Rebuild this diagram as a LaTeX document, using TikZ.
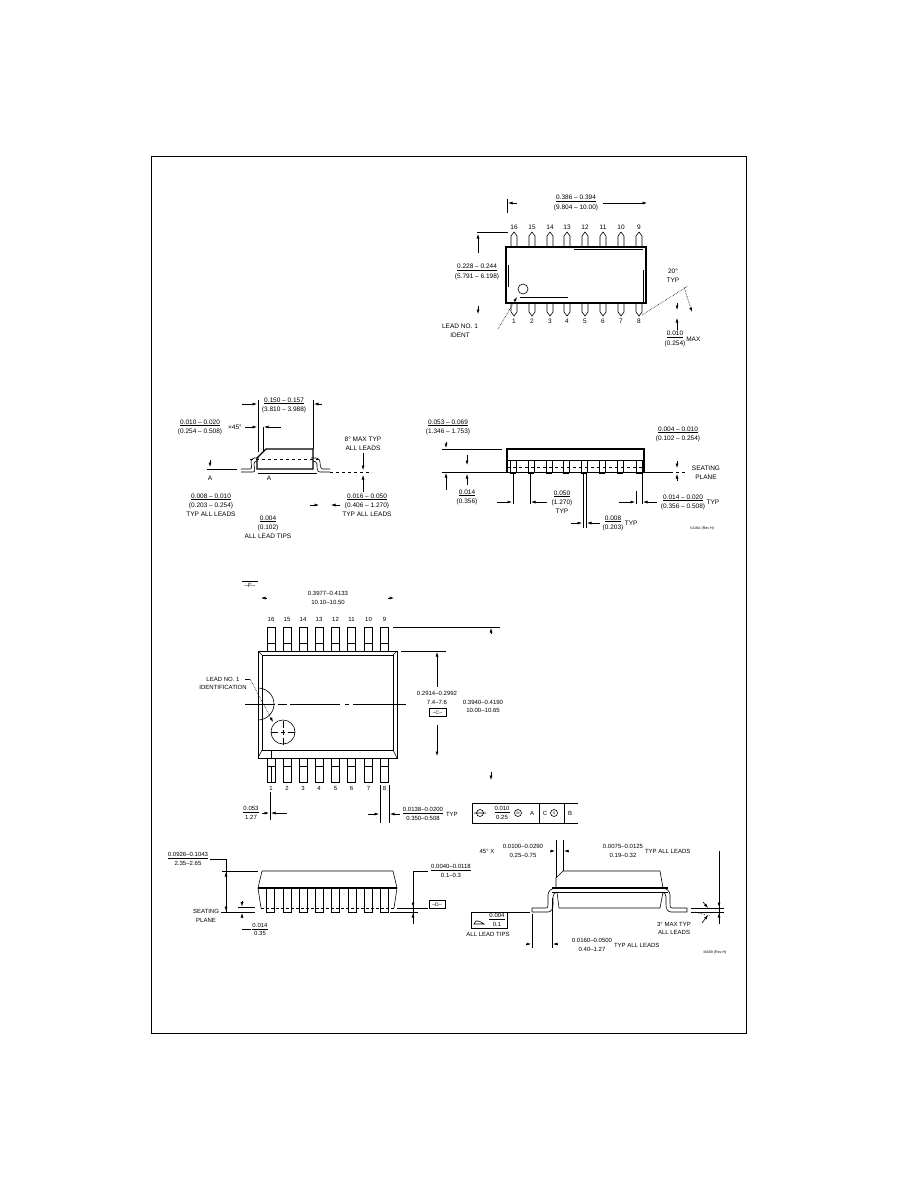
\documentclass[tikz,border=0pt]{standalone}
\usepackage{fontspec}
\setmainfont{Liberation Sans}
\usetikzlibrary{positioning,calc,arrows.meta}

\begin{document}
\begin{tikzpicture}[x=1pt,y=-1pt,>={Latex[length=4.5pt,width=3pt]},
  every node/.style={inner sep=0pt,outer sep=0pt},%
  t/.style={align=center,font=\fontsize{6.5}{9.2}\selectfont},%
  tiny/.style={font=\fontsize{3.6}{4}\selectfont},%
  o/.style={line width=.6pt},%
  h/.style={line width=1.3pt},%
  e/.style={->,line width=.6pt},%
  d/.style={line width=.6pt,densely dotted},%
  fb/.style={draw,line width=.6pt,minimum height=8pt,font=\fontsize{5}{6}\selectfont}
  ]
  \path[use as bounding box,fill=white] (0,0) rectangle (918,1188);
  \draw[line width=.7pt] (151,156) rectangle (746,1033);

  % top view, narrow body
  \draw[h] (506,247) rectangle (646,303);
  \draw[o] (574,249) -- (643,249) (520,297) -- (568,297) (508,265) -- (508,287) (643,270) -- (643,303);
  \draw[o] (523,289) circle (5);
  \foreach \x/\n in {514/16,532/15,550/14,567/13,585/12,603/11,621/10,639/9}{
    \draw[o] (\x-3,247) -- (\x-3,236) -- (\x,232) -- (\x+3,236) -- (\x+3,247);
    \node[t] at (\x,227) {\n};}
  \foreach \x/\n in {514/1,532/2,550/3,567/4,585/5,603/6,621/7,639/8}{
    \draw[o] (\x-3,303) -- (\x-3,312) -- (\x,316) -- (\x+3,312) -- (\x+3,303);
    \node[t] at (\x,321) {\n};}
  \draw[o] (507,199) -- (507,213);
  \draw[e] (517,203) -- (508,203);
  \draw[e] (603,203) -- (647,203);
  \node (wa) [t] at (576,203) {\underline{0.386 -- 0.394}\\(9.804 -- 10.00)};
  \draw[o] (477,232) -- (508,232);
  \draw[e] (478,253) -- (478,234);
  \draw[e] (478,306) -- (478,314);
  \node (wb) [t] at (477,272) {\underline{0.228 -- 0.244}\\(5.791 -- 6.198)};
  \node (la) [t] at (460,330.5) {LEAD NO. 1\\IDENT};
  \draw[d,->] (498,329) -- (517,297);
  \draw[d] (642,315) -- (688,286);
  \draw[d,->] (684,287) -- (692,312);
  \node (ang) [t] at (673,276) {20°\\TYP};
  \draw[e] (677,303) -- (677,310);
  \draw[e] (677,330) -- (677,318);
  \node (mx) [t] at (675,339) {\underline{0.010}\\(0.254)};
  \node (mxb) [t,right=1pt of mx] {MAX};

  % side view, end
  \draw[h] (257,469) -- (257,458) -- (266,449) -- (313,449) -- (313,469) -- cycle;
  \draw[o,dashed] (250,459) -- (322,459);
  \draw[o] (241,469) -- (250,469) to[out=0,in=-90] (251,462) to[out=90,in=180] (254,458) -- (259,458)
    (241,472) -- (253,472) to[out=0,in=-90] (254,464) to[out=90,in=180] (257,461);
  \draw[o] (330,469) -- (323,469) to[out=180,in=-90] (320,462) to[out=90,in=0] (316,458) -- (311,458)
    (330,472) -- (320,472) to[out=180,in=-90] (317,464) to[out=90,in=0] (313,461);
  \draw[o] (258,473) -- (317,473);
  \node (a1) [t] at (269,478) {A};
  \draw[o] (258,400) -- (258,452) (313,400) -- (313,449) (263,427) -- (263,452);
  \draw[e] (242,404) -- (257,404);
  \draw[e] (322,404) -- (314,404);
  \node (sa) [t] at (284,405) {\underline{0.150 -- 0.157}\\(3.810 -- 3.988)};
  \node (sb) [t] at (200,427) {\underline{0.010 -- 0.020}\\(0.254 -- 0.508)};
  \node (sc) [t] at (235,427) {×45°};
  \draw[e] (245,427) -- (257,427);
  \draw[e] (281,427) -- (264,427);
  \draw[o] (207,469) -- (234,469);
  \draw[o,dashed] (234,469) -- (240,469);
  \draw[o,dashed] (330,472) -- (372,472);
  \draw[e] (210,460) -- (210,467);
  \node (a2) [t] at (210,478) {A};
  \node (sd) [t] at (363,444) {8° MAX TYP\\ALL LEADS};
  \draw[e] (363,453) -- (363,470);
  \draw[e] (363,492) -- (363,475);
  \node (se) [t] at (367,505) {\underline{0.016 -- 0.050}\\(0.406 -- 1.270)\\TYP ALL LEADS};
  \draw[e] (310,505) -- (319,505);
  \draw[e] (340,505) -- (331,505);
  \node (sf) [t] at (211,505) {\underline{0.008 -- 0.010}\\(0.203 -- 0.254)\\TYP ALL LEADS};
  \node (sg) [t] at (268,527) {\underline{0.004}\\(0.102)\\ALL LEAD TIPS};

  % side view, long
  \draw[o] (442,472) -- (670,472);
  \draw[o,dashed] (670,472) -- (688,472);
  \draw[o] (442,449) -- (502,449);
  \draw[h] (507,472) -- (507,449) -- (644,449) -- (644,472);
  \draw[o] (507,460) -- (644,460);
  \draw[o,dashed] (507,467) -- (644,467);
  \foreach \x in {513,531,549,566,584,602,620,639}{
    \draw[o] (\x-3,460) rectangle (\x+3,472);
    \draw[h] (\x-3,473) -- (\x+3,473);}
  \draw[e] (446,442) -- (446,448);
  \draw[e] (446,490) -- (446,473);
  \draw[e] (467,455) -- (467,465);
  \draw[e] (467,485) -- (467,474);
  \node (ha) [t] at (448,427) {\underline{0.053 -- 0.069}\\(1.346 -- 1.753)};
  \node (hb) [t] at (467,497) {\underline{0.014}\\(0.356)};
  \node (hc) [t] at (678,434) {\underline{0.004 -- 0.010}\\(0.102 -- 0.254)};
  \draw[e] (677,461) -- (677,468);
  \draw[e] (677,481) -- (677,474);
  \node (hd) [t] at (706,473) {SEATING\\PLANE};
  \draw[o] (513,472) -- (513,504) (530,472) -- (530,504) (583,472) -- (583,528) (586,472) -- (586,528)
    (636,491) -- (636,504) (642,472) -- (642,504);
  \draw[e] (497,502) -- (512,502);
  \draw[e] (547,502) -- (531,502);
  \draw[e] (571,523) -- (582,523);
  \draw[e] (600,523) -- (587,523);
  \draw[e] (619,502) -- (635,502);
  \draw[e] (657,502) -- (643,502);
  \node (he) [t] at (562,502) {\underline{0.050}\\(1.270)\\TYP};
  \node (hf) [t] at (613,523) {\underline{0.008}\\(0.203)};
  \node (hg) [t,right=1.5pt of hf] {TYP};
  \node (hh) [t] at (683,502) {\underline{0.014 -- 0.020}\\(0.356 -- 0.508)};
  \node (hi) [t,right=1.5pt of hh] {TYP};
  \node (hj) [tiny] at (702,529) {VJ16A (Rev H)};

  \begin{scope}[t/.style={align=center,font=\fontsize{6}{8.6}\selectfont}]
  % top view, wide body
  \draw[line width=1pt] (258,651) rectangle (397,758);
  \draw[o] (262,655) rectangle (393,750);
  \draw[o] (258,651) -- (262,655) (397,651) -- (393,655) (258,758) -- (262,750) (397,758) -- (393,750);
  \foreach \x/\n in {271/16,287/15,303/14,319/13,335.5/12,351.5/11,368.5/10,384.5/9}{
    \draw[o] (\x-4,627) rectangle (\x+4,651) (\x-4,643) -- (\x+4,643);
    \node[t] at (\x,619) {\n};}
  \foreach \x/\n in {271/1,287/2,303/3,319/4,335.5/5,351.5/6,368.5/7,384.5/8}{
    \draw[o] (\x-4,758) rectangle (\x+4,782) (\x-4,766) -- (\x+4,766);
    \node[t] at (\x,788) {\n};}
  \draw[o] (245,704) -- (275,704) (278,704) -- (287,704) (290,704) -- (340,704) (345,704) -- (349,704) (353,704) -- (406,704);
  \draw[o] (258,688) arc[start angle=-90,end angle=90,radius=16];
  \draw[o] (283,732) circle (12);
  \draw[o] (271,732) -- (278,732) (281,732) -- (285,732) (288,732) -- (295,732)
    (283,721) -- (283,728) (283,730) -- (283,735) (283,738) -- (283,745);
  \draw[o] (271,750) -- (271,758) (271,766) -- (271,782);
  \node (id) [t] at (223,683.5) {LEAD NO. 1\\IDENTIFICATION};
  \draw[o] (245,679) -- (250,679);
  \draw[d,->] (250,679) -- (273,722);
  \node (fm) [t] at (250,585) {--F--};
  \draw[o] (242,581) -- (258,581);
  \node (wc) [t] at (328,598) {0.3977--0.4133\\10.10--10.50};
  \draw[e] (267,598) -- (261,598);
  \draw[e] (388,598) -- (394,598);
  \draw[o] (393,627) -- (500,627) (401,651) -- (446,651);
  \draw[e] (491,634) -- (491,628);
  \draw[e] (491,772) -- (491,780);
  \draw[e] (437,687) -- (437,652);
  \draw[e] (437,725) -- (437,756);
  \node (wd) [t] at (437,698) {0.2914--0.2992\\7.4--7.6};
  \node (cb) [fb,minimum width=17pt] at (437.5,712.5) {--C--};
  \node (we) [t] at (483,706.5) {0.3940--0.4190\\10.00--10.65};
  \draw[o] (270,792) -- (270,820) (380,785) -- (380,823) (389,785) -- (389,823);
  \draw[e] (262,813) -- (269,813);
  \draw[e] (287,813) -- (271,813);
  \node (wf) [t] at (251,813) {\underline{0.053}\\1.27};
  \draw[e] (368,814) -- (379,814);
  \draw[e] (400,814) -- (390,814);
  \node (wg) [t] at (423,814) {\underline{0.0138--0.0200}\\0.350--0.508};
  \node (wh) [t,right=3pt of wg] {TYP};
  % tolerance frame
  \draw[line width=.7pt] (578,803) -- (472,803) -- (472,823) -- (578,823) (539,803) -- (539,823) (564,803) -- (564,823);
  \draw[o] (480,813) circle (3.5) (474,813) -- (486,813);
  \node (tf) [t] at (502,813) {\underline{0.010}\\0.25};
  \draw[o] (518,813) circle (3.5);
  \node (tm) [tiny] at (518,813) {M};
  \node (tA) [t] at (532,813) {A};
  \node (tC) [t] at (545,813) {C};
  \draw[o] (554,813) circle (3.5);
  \node (tS) [tiny] at (554,813) {S};
  \node (tB) [t] at (570,813) {B};

  % front view, wide body
  \draw[o] (258,888) -- (262,871) -- (393,871) -- (397,888);
  \draw[line width=1.2pt] (258,888) -- (397,888);
  \draw[o] (258,888) -- (261,908) (397,888) -- (394,908);
  \draw[o,densely dashed] (261,908) -- (394,908);
  \foreach \x in {270.5,287,303,319,335.5,352,368,384.5}{
    \draw[o] (\x-4,888) rectangle (\x+4,912);}
  \draw[line width=.9pt] (287+4,888) -- (287+4,912) (335.5+4,888) -- (335.5+4,912);
  \draw[o] (210,859) -- (226,859) -- (226,912) (222,871) -- (258,871) (221,912) -- (255,912)
    (238,907.5) -- (255,907.5);
  \draw[e] (226,880) -- (226,872);
  \draw[e] (226,900) -- (226,911);
  \node (fa) [t] at (188,859) {\underline{0.0926--0.1043}\\2.35--2.65};
  \node (fbb) [t] at (206,916) {SEATING\\PLANE};
  \draw[e] (242,901) -- (242,906.5);
  \draw[e] (242,918) -- (242,913);
  \node (fc) [t] at (260,929.5) {\underline{0.014}\\0.35};
  \draw[o] (242,929) -- (251,929);
  \draw[o] (397,908) -- (428,908) (390,912) -- (418,912) (413,871) -- (428,871) (413,871) -- (413,924);
  \draw[e] (413,900) -- (413,907);
  \draw[e] (413,920) -- (413,913);
  \node (fd) [t] at (451,871) {\underline{0.0040--0.0118}\\0.1--0.3};
  \node (dbx) [fb,minimum width=16pt,anchor=west] at (429,904.5) {--D--};

  % end view, wide body
  \draw[o] (556,888) -- (556,878) -- (563,871) -- (660,871) -- (663,888);
  \draw[line width=1.2pt] (552,888) -- (668,888);
  \draw[o] (552,892) -- (668,892);
  \draw[o] (557,892) -- (559,908) -- (660,908) -- (663,892);
  \draw[o] (532,908) -- (546,908) to[out=0,in=-90] (548,902) -- (548,895) to[out=90,in=180] (556,888)
    (532,908) -- (532,912) -- (548,912) to[out=0,in=-90] (553,905) -- (553,897) to[out=90,in=180] (557,892);
  \draw[o] (687,908) -- (672,908) to[out=180,in=-90] (670,902) -- (670,895) to[out=90,in=0] (662,888)
    (687,908) -- (687,912) -- (671,912) to[out=180,in=-90] (666,905) -- (666,897) to[out=90,in=0] (662,892);
  \draw[o] (508,912) -- (530,912);
  \node (gb) [draw,line width=.6pt,minimum width=36pt,minimum height=16pt] at (489,920) {};
  \draw[o] (474,924) -- (484,924) to[out=160,in=0] (478,921) -- (476,921) -- cycle;
  \node (gc) [t] at (497,920) {\underline{0.004}\\0.1};
  \node (gd) [t] at (488,934) {ALL LEAD TIPS};
  \draw[o] (532,914) -- (532,948) (552,898) -- (552,948);
  \draw[e] (526,944) -- (531,944);
  \draw[e] (558,944) -- (553,944);
  \node (ge) [t] at (592,945) {0.0160--0.0500\\0.40--1.27};
  \node (gf) [t,right=2pt of ge] {TYP ALL LEADS};
  \node (gg) [t] at (523,851) {0.0100--0.0290\\0.25--0.75};
  \node (gh) [t] at (487,851) {45° X};
  \draw[e] (550,851) -- (555,851);
  \draw[e] (569,851) -- (564,851);
  \draw[o] (556,840) -- (556,878) (563,840) -- (563,871);
  \node (gi) [t] at (623,851) {0.0075--0.0125\\0.19--0.32};
  \node (gj) [t,right=2pt of gi] {TYP ALL LEADS};
  \draw[o] (719,851) -- (719,924) (691,908) -- (724,908) (691,912) -- (724,912);
  \draw[e] (719,900) -- (719,907);
  \draw[e] (719,920) -- (719,913);
  \draw[d] (695,912) -- (710,916);
  \draw[e] (703,902) -- (708,908);
  \draw[e] (702,923) -- (708,915);
  \node (gk) [t] at (674,928.5) {3° MAX TYP\\ALL LEADS};
  \node (gl) [tiny] at (715,953) {M16B (Rev H)};
  \end{scope}
\end{tikzpicture}
\end{document}
